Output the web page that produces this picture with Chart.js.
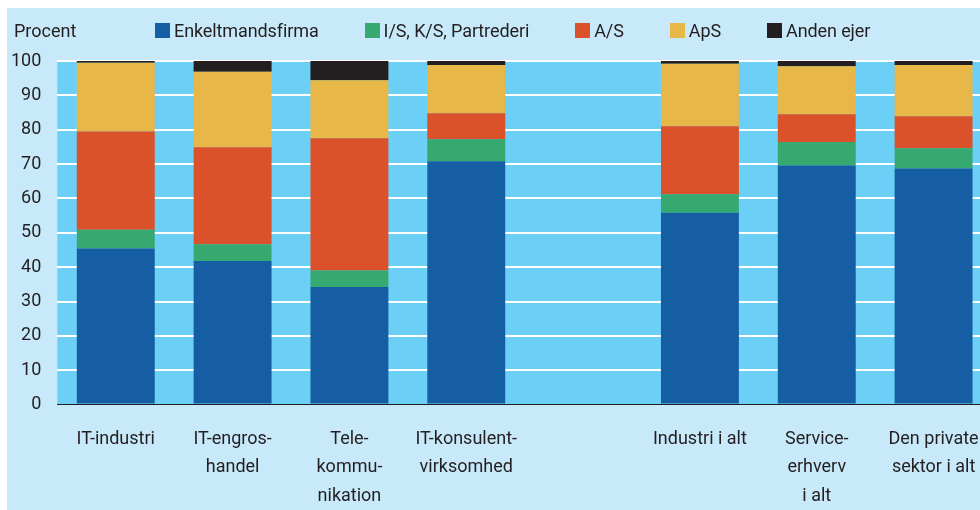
<!DOCTYPE html>
<html>
<head>
<meta charset="utf-8">
<script src="https://cdn.jsdelivr.net/npm/chart.js@4/dist/chart.umd.min.js"></script>
<style>
    html, body { margin: 0; padding: 0; background: #fff; overflow: hidden; }
    #frame {
        position: absolute; left: 7px; top: 8px;
        width: 1000px; height: 502px;
        background: #c7e9f9; overflow: hidden;
        font-family: Roboto, 'Noto Sans', sans-serif; color: #231f20;
    }
    #unit { position: absolute; left: 7px; top: 12px; font-size: 18px; }
    #legend { position: absolute; left: 148px; top: 12px; display: flex; font-size: 18px; letter-spacing: -0.1px; }
    #legend .item { display: flex; align-items: center; margin-right: 46px; }
    #legend .box { width: 15px; height: 15px; margin-right: 4px; }
    #wrap { position: absolute; left: -15px; top: 0; width: 1015px; height: 523px; }
</style>
</head>
<body>
<div id="frame">
    <div id="wrap"><canvas id="chart"></canvas></div>
    <div id="unit">Procent</div>
    <div id="legend"></div>
</div>
<script>
// categories (the empty slot is the gap between the IT groups and the totals)
const categories = [
    ['IT-industri'],
    ['IT-engros-', 'handel'],
    ['Tele-', 'kommu-', 'nikation'],
    ['IT-konsulent-', 'virksomhed'],
    '',
    ['Industri i alt'],
    ['Service-', 'erhverv', 'i alt'],
    ['Den private', 'sektor i alt'],
];

// share of firms by ownership form, percent
const enkeltmandsfirma = [45.4, 41.8, 34.2, 70.8, null, 55.8, 69.6, 68.7];
const isksPartrederi = [5.5, 4.9, 4.8, 6.4, null, 5.4, 6.8, 5.9];
const aktieselskab = [28.6, 28.2, 38.5, 7.6, null, 19.8, 8.1, 9.3];
const anpartsselskab = [20.0, 22.0, 16.9, 14.0, null, 18.2, 14.0, 14.9];
const andenEjer = [0.5, 3.1, 5.6, 1.2, null, 0.8, 1.5, 1.2];

const yTicks = [0, 10, 20, 30, 40, 50, 60, 70, 80, 90, 100];

const series = [
    { label: 'Enkeltmandsfirma', data: enkeltmandsfirma, color: '#165ea3' },
    { label: 'I/S, K/S, Partrederi', data: isksPartrederi, color: '#36a970' },
    { label: 'A/S', data: aktieselskab, color: '#db522a' },
    { label: 'ApS', data: anpartsselskab, color: '#e7b748' },
    { label: 'Anden ejer', data: andenEjer, color: '#231f20' },
];

// html legend row
const legendEl = document.getElementById('legend');
series.forEach(s => {
    const item = document.createElement('div');
    item.className = 'item';
    const box = document.createElement('span');
    box.className = 'box';
    box.style.background = s.color;
    const txt = document.createElement('span');
    txt.textContent = s.label;
    item.appendChild(box);
    item.appendChild(txt);
    legendEl.appendChild(item);
});

// paint the plot area background
const plotBackground = {
    id: 'plotBackground',
    beforeDraw(chart) {
        const { ctx, chartArea } = chart;
        ctx.save();
        ctx.fillStyle = '#6ccff5';
        ctx.fillRect(chartArea.left, chartArea.top, chartArea.right - chartArea.left, chartArea.bottom - chartArea.top);
        ctx.restore();
    },
};

const font = { family: 'Roboto', size: 18 };

new Chart(document.getElementById('chart'), {
    type: 'bar',
    data: {
        labels: categories,
        datasets: series.map(s => ({
            label: s.label,
            data: s.data,
            backgroundColor: s.color,
            borderWidth: 0,
            barPercentage: 1,
            categoryPercentage: 0.667,
        })),
    },
    options: {
        responsive: true,
        maintainAspectRatio: false,
        animation: false,
        layout: { padding: { top: 53, right: 15, left: 3, bottom: 0 } },
        scales: {
            x: {
                stacked: true,
                grid: { display: false, drawTicks: false },
                border: { display: true, color: '#231f20', width: 1 },
                ticks: {
                    color: '#231f20',
                    padding: 20,
                    maxRotation: 0,
                    autoSkip: false,
                    font: { family: 'Roboto', size: 18, lineHeight: 1.6 },
                },
            },
            y: {
                stacked: true,
                min: 0,
                max: 100,
                afterBuildTicks: axis => {
                    axis.ticks = yTicks.map(v => ({ value: v }));
                },
                grid: {
                    drawTicks: false,
                    lineWidth: 2,
                    color: c => (c.tick && c.tick.value === 0 ? 'rgba(0,0,0,0)' : '#ffffff'),
                },
                border: { display: false },
                ticks: { color: '#231f20', padding: 16, font },
            },
        },
        plugins: {
            legend: { display: false },
            tooltip: { enabled: false },
        },
    },
    plugins: [plotBackground],
});
</script>
</body>
</html>
